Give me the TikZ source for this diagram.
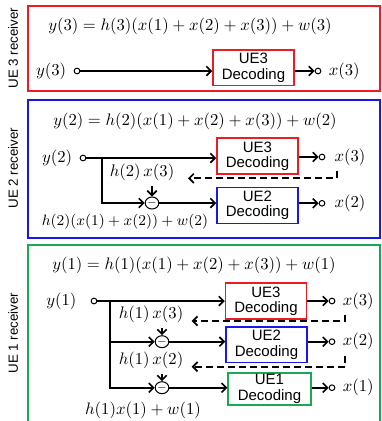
\documentclass[tikz,border=0pt]{standalone}
\usepackage{amsmath}
\usepackage{fontspec}
\setsansfont{Liberation Sans}
\usetikzlibrary{arrows.meta,positioning,shapes.geometric}
\definecolor{ueRed}{RGB}{236,28,36}
\definecolor{ueBlue}{RGB}{24,24,236}
\definecolor{ueGreen}{RGB}{26,168,82}

\tikzset{
  panel/.style={line width=1.2pt},
  decbox/.style={draw, line width=1pt, align=center, inner sep=0pt,
    minimum width=48.5pt, minimum height=21.5pt,
    font=\sffamily\fontsize{9}{9.2}\selectfont},
  term/.style={circle, draw, inner sep=0pt, minimum size=3.4pt, line width=0.6pt},
  subnode/.style={ellipse, draw, inner sep=0pt, minimum width=6pt, minimum height=7.2pt,
    line width=0.6pt, font=\fontsize{6}{6}\selectfont},
  sig/.style={line width=1pt, -{Straight Barb[length=2.8pt,width=5.6pt]}},
  fb/.style={sig, dash pattern=on 4pt off 2.6pt},
  recv/.style={rotate=90, font=\sffamily\fontsize{8}{8}\selectfont}
}

\begin{document}
\begin{tikzpicture}[x=0.6pt,y=-0.6pt]
\useasboundingbox (0,0) rectangle (381,421);
\clip (0,0) rectangle (381,421);

% UE 3
\draw[panel, ueRed] (28,6) rectangle (380,91);
\node[recv] (r3) at (13,48) {UE 3 receiver};
\node (eq3) at (190,26) {$y(3)=h(3)(x(1)+x(2)+x(3))+w(3)$};
\node[term] (y3in) at (77,71) {};
\node[left=1pt of y3in] (ly3) {$y(3)$};
\node[decbox, draw=ueRed] (dec3a) at (253.5,67.7) {UE3\\Decoding};
\node[term] (x3a) at (318,71) {};
\node[right=1pt of x3a] (lx3a) {$x(3)$};
\draw[sig] (y3in) -- (y3in -| dec3a.west);
\draw[sig] (dec3a.east |- x3a) -- (x3a);

% UE 2
\draw[panel, ueBlue] (28,100) rectangle (380,237.7);
\node[recv] (r2) at (13,168) {UE 2 receiver};
\node (eq2) at (195,121.7) {$y(2)=h(2)(x(1)+x(2)+x(3))+w(2)$};
\node[term] (y2in) at (83,158) {};
\node[left=1pt of y2in] (ly2) {$y(2)$};
\node[decbox, draw=ueRed] (dec3b) at (257.5,156) {UE3\\Decoding};
\node[decbox, draw=ueBlue] (dec2b) at (257.5,205.5) {UE2\\Decoding};
\coordinate (b2) at (102,158);
\node[subnode] (sub2) at (152,203) {$-$};
\node (lh23) at (142,172) {$h(2)\,x(3)$};
\node[anchor=east, font=\fontsize{9.2}{10}\selectfont] (lsum2) at (214,221.7) {$h(2)(x(1)+x(2))+w(2)$};
\node[term] (x3b) at (322,157) {};
\node[right=2pt of x3b] (lx3b) {$x(3)$};
\node[term] (x2b) at (322,203.3) {};
\node[right=2pt of x2b] (lx2b) {$x(2)$};
\coordinate (fb2) at (337,178.3);
\coordinate (fb2end) at (188,178.3);
\draw[sig] (y2in) -- (y2in -| dec3b.west);
\draw[sig] (b2) |- (sub2);
\draw[sig] (sub2) -- (sub2 -| dec2b.west);
\draw[sig] (lh23.south -| sub2) -- (sub2);
\draw[sig] (dec3b.east |- x3b) -- (x3b);
\draw[sig] (dec2b.east |- x2b) -- (x2b);
\draw[fb] (fb2 |- lx3b.south) -- (fb2) -- (fb2end);

% UE 1
\draw[panel, ueGreen] (28,430) -- (28,245) -- (380,245) -- (380,430);
\node[recv] (r1) at (13,333) {UE 1 receiver};
\node (eq1) at (194,265) {$y(1)=h(1)(x(1)+x(2)+x(3))+w(1)$};
\node[term] (y1in) at (94,301) {};
\node[left=5pt of y1in] (ly1) {$y(1)$};
\node[decbox, draw=ueRed] (dec3c) at (266,301) {UE3\\Decoding};
\node[decbox, draw=ueBlue] (dec2c) at (266.5,344.7) {UE2\\Decoding};
\node[decbox, draw=ueGreen, minimum height=19.5pt, minimum width=49.5pt] (dec1c) at (269.5,389) {UE1\\Decoding};
\coordinate (b1) at (110,301);
\node[subnode] (sub3a) at (162,341.7) {$-$};
\node[subnode] (sub3b) at (162,387.7) {$-$};
\node (lh13) at (151,314) {$h(1)\,x(3)$};
\node (lh12) at (151,360) {$h(1)\,x(2)$};
\node (lsum1) at (143,410) {$h(1)x(1)+w(1)$};
\node[term] (x3c) at (332,301) {};
\node[right=1pt of x3c] (lx3c) {$x(3)$};
\node[term] (x2c) at (332,341.7) {};
\node[right=1pt of x2c] (lx2c) {$x(2)$};
\node[term] (x1c) at (332,387.7) {};
\node[right=1pt of x1c] (lx1c) {$x(1)$};
\coordinate (fb3) at (345,321);
\coordinate (fb3end) at (191.7,321);
\coordinate (fb4) at (345,366.7);
\coordinate (fb4end) at (191.7,366.7);
\draw[sig] (y1in) -- (y1in -| dec3c.west);
\draw[sig] (b1) |- (sub3a);
\draw[sig] (b1) |- (sub3b);
\draw[sig] (sub3a) -- (sub3a -| dec2c.west);
\draw[sig] (sub3b) -- (sub3b -| dec1c.west);
\draw[sig] (lh13.south -| sub3a) -- (sub3a);
\draw[sig] (lh12.south -| sub3b) -- (sub3b);
\draw[sig] (dec3c.east |- x3c) -- (x3c);
\draw[sig] (dec2c.east |- x2c) -- (x2c);
\draw[sig] (dec1c.east |- x1c) -- (x1c);
\draw[fb] (fb3 |- lx3c.south) -- (fb3) -- (fb3end);
\draw[fb] (fb4 |- lx2c.south) -- (fb4) -- (fb4end);
\end{tikzpicture}
\end{document}
